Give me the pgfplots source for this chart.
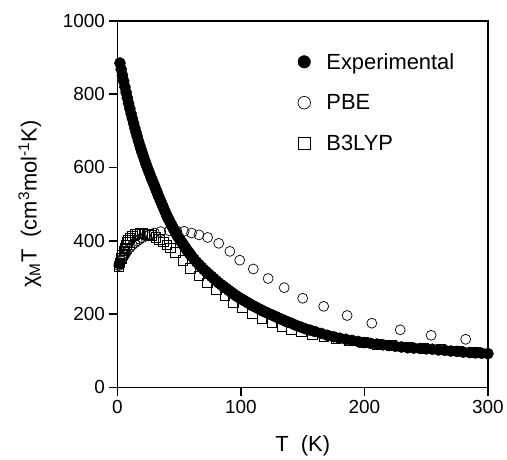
\documentclass[border=0pt]{standalone}
\usepackage{fontspec}
\setmainfont{Liberation Sans}
\usepackage{pgfplots}
\pgfplotsset{compat=1.18}

\begin{document}
\begin{tikzpicture}
\begin{axis}[
    scale only axis,
    width=372pt, height=368pt,
    xmin=0, xmax=300, ymin=0, ymax=1000,
    xtick={0,100,200,300},
    ytick={0,200,400,600,800,1000},
    tick align=outside,
    tick pos=left,
    major tick length=9pt,
    axis line style={line width=1.6pt},
    every tick/.style={black, line width=1.6pt},
    /pgf/number format/assume math mode=true,
    /pgf/number format/set thousands separator={},
    ticklabel style={font=\fontsize{19}{22}\selectfont},
    xlabel={T\ \ (K)},
    ylabel={χ\textsubscript{M}T\ \ (cm\textsuperscript{3}mol\textsuperscript{-1}K)},
    label style={font=\fontsize{22}{26}\selectfont},
    xlabel style={at={(axis description cs:0.5,-0.175)}, anchor=base},
    ylabel style={at={(axis description cs:-0.218,0.5)}, anchor=base, rotate=0},
    clip=false,
    reverse legend,
    legend cell align=left,
    legend image code/.code={\draw[#1] plot coordinates {(0pt,0pt)};},
    legend image post style={mark size=6.3pt},
    legend style={
        at={(axis cs:146,918)}, anchor=north west,
        draw=none, fill=none, inner sep=0pt,
        font=\fontsize{22}{26}\selectfont,
        row sep=20pt,
        /tikz/every odd column/.append style={column sep=14pt},
    },
]
% B3LYP
\addplot[only marks, mark=square, mark size=4.8pt, black, line width=0.7pt] table {
1 330
2 340
3 352
4 362
5 372
6 381
7 389
8 396
9 402
10 407
12 413
14 417
16 419
18 420
20 421
22 419
25 417
28 414
31 410
34 404
37 397
40 389
43 381
47 369
53 346
59 324
66 304
73 285
80 267
87 250
94 232
101 217
109 201
117 188
125 176
133 165
141 157
149 151
158 145
167 139
177 133
188 127
199 122
210 118
222 114
235 110
248 107
262 103
276 100
290 96
};
% PBE
\addplot[only marks, mark=o, mark size=5pt, black, line width=0.7pt] table {
1 332
2 338
3 345
4 351
5 357
6 362
7 368
8 373
10 381
12 388
14 394
16 399
18 404
20 408
23 413
26 417
30 421
35 425
42 427
48 427
54 426
60 421
66 416
73 409
82 393
91 371
99 347
110 323
122 297
135 272
150 243
167 221
186 196
206 175
229 157
254 142
282 131
};
% Experimental
\addplot[only marks, mark=*, mark size=5.6pt, black] table {
1.6 337
2 885
3 868
4 852
5 836
6 820
7 805
8 790
9 775
10 761
11 747
12 734
13 721
14 708
15 696
16 684
17 672
18 661
19 650
20 640
21 630
22 620
23 610
24 601
25 592
26 583
27 574
28 566
29 558
30 550
31 541
32 533
33 524
34 516
35 508
36 500
37 492
38 484
39 476
40 468
41 461
42 455
43 448
44 442
45 435
46 429
47 423
48 417
49 411
50 406
51 401
52 396
53 391
54 386
55 381
56 376
57 371
58 367
59 362
60 358
62 350
64 342
66 335
68 328
70 321
72 315
74 309
76 303
78 297
80 291
82 285
84 280
86 275
88 270
90 265
92 260
94 255
96 250
98 246
100 242
102 238
104 234
106 230
108 226
110 222
112 219
114 215
116 212
118 208
120 205
122 202
124 199
126 196
128 193
130 190
132 187
134 184
136 181
138 178
140 176
144 170
148 165
152 160
156 156
160 152
165 147
170 142
175 138
180 134
185 131
190 128
195 125
200 122
205 120
210 118
215 116
220 114
225 112
230 110
235 108
240 107
245 106
250 105
255 104
260 102
265 101
270 99
275 98
280 96
285 95
290 94
295 93
300 92
};
\legend{B3LYP, PBE, Experimental}
\end{axis}
\path ([shift={(-118pt,-72pt)}]current axis.south west) rectangle ([shift={(17pt,21pt)}]current axis.north east);
\end{tikzpicture}
\end{document}
